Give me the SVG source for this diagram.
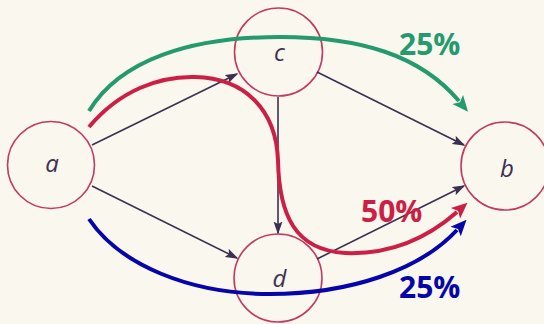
<svg xmlns="http://www.w3.org/2000/svg" width="544" height="324" viewBox="0 0 544 324">
  <style>
    .bg { fill: #faf7ef; }
    .node circle { fill: #faf7ef; stroke: #c23a62; stroke-width: 1.6; }
    .node text { font-family: "Open Sans", "Lato", sans-serif; font-style: italic; font-size: 24px; fill: #3b3050; text-anchor: middle; }
    .edge { fill: none; stroke: #3b3050; stroke-width: 1.6; marker-end: url(#ah); }
    .flow { fill: none; stroke-width: 4; }
    .pct { font-family: "Open Sans", "Lato", sans-serif; font-weight: bold; font-size: 30px; }
  </style>
  <defs>
    <marker id="ah" markerUnits="userSpaceOnUse" viewBox="0 0 13 10" markerWidth="13" markerHeight="10" refX="11.5" refY="5" orient="auto">
      <path d="M0,0.5 L13,5 L0,9.5 L2.5,5 z" fill="#3b3050"/>
    </marker>
    <marker id="ahg" markerUnits="userSpaceOnUse" viewBox="0 0 16 16" markerWidth="16" markerHeight="16" refX="2" refY="8" orient="auto">
      <path d="M0,1 L16,8 L0,15 L3.5,8 z" fill="#259a6e"/>
    </marker>
    <marker id="ahr" markerUnits="userSpaceOnUse" viewBox="0 0 16 16" markerWidth="16" markerHeight="16" refX="2" refY="8" orient="auto">
      <path d="M0,1 L16,8 L0,15 L3.5,8 z" fill="#cc1f45"/>
    </marker>
    <marker id="ahb" markerUnits="userSpaceOnUse" viewBox="0 0 16 16" markerWidth="16" markerHeight="16" refX="2" refY="8" orient="auto">
      <path d="M0,1 L16,8 L0,15 L3.5,8 z" fill="#0505aa"/>
    </marker>
  </defs>
  <rect class="bg" x="0" y="0" width="544" height="324"/>

  <g id="node-a" class="node">
    <circle cx="51" cy="165" r="43.5"/>
    <text x="52" y="172">a</text>
  </g>
  <g id="node-c" class="node">
    <circle cx="278.5" cy="52" r="44"/>
    <text x="279.5" y="61">c</text>
  </g>
  <g id="node-d" class="node">
    <circle cx="278" cy="278" r="44"/>
    <text x="279.5" y="287">d</text>
  </g>
  <g id="node-b" class="node">
    <circle cx="505" cy="166" r="44"/>
    <text x="507" y="177">b</text>
  </g>

  <g id="connectors">
    <path class="edge" d="M92,145 L237,74"/>
    <path class="edge" d="M92,186 L237,258"/>
    <path class="edge" d="M317,72 L464,145"/>
    <path class="edge" d="M278,97 L278,233"/>
    <path class="edge" d="M317,259 L464,186"/>

    <path class="flow" stroke="#259a6e" marker-end="url(#ahg)" d="M89,111 C120,60 190,37 280,37 C360,37 420,55 459,101"/>
    <path class="flow" stroke="#cc1f45" marker-end="url(#ahr)" d="M89,127 C120,90 160,76 195,77 C245,78 276,110 278,160 C279,215 295,250 345,253 C395,255 432,234 457,212"/>
    <path class="flow" stroke="#0505aa" marker-end="url(#ahb)" d="M89,219 C120,265 190,294 270,294 C350,294 420,270 457,230"/>
  </g>

  <text class="pct" x="399" y="55" fill="#259a6e">25%</text>
  <text class="pct" x="361" y="222" fill="#cc1f45">50%</text>
  <text class="pct" x="399" y="298" fill="#0505aa">25%</text>
</svg>
